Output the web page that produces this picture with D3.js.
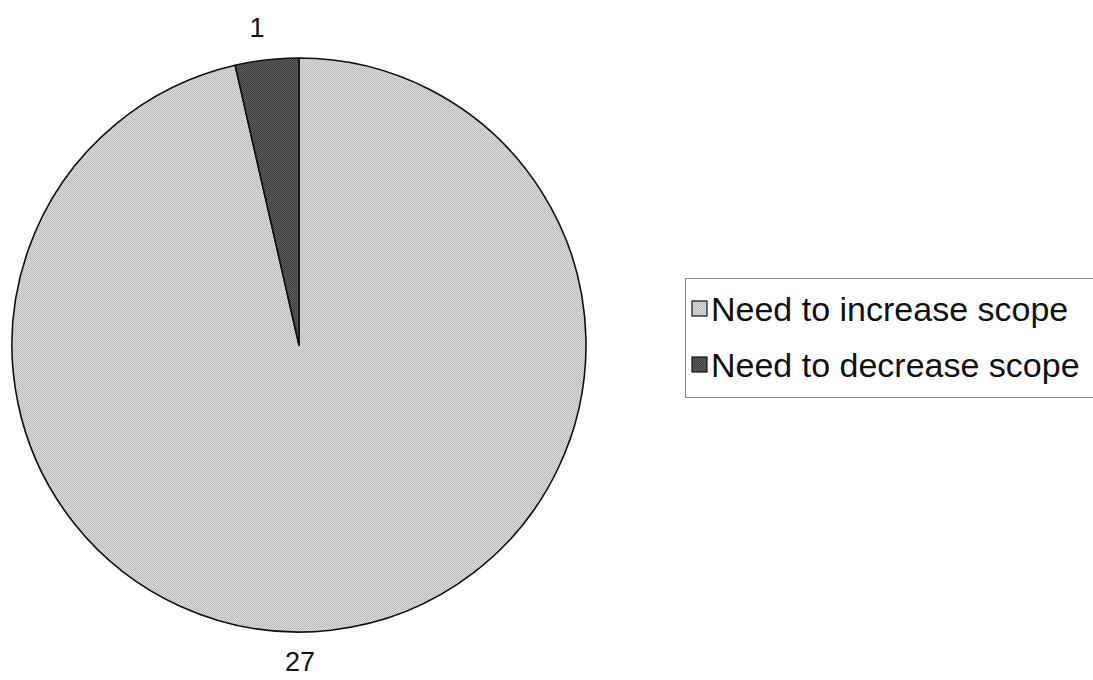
<!DOCTYPE html>
<html>
<head>
<meta charset="utf-8">
<script src="https://cdn.jsdelivr.net/npm/d3@7"></script>
<style>
  html, body { margin: 0; padding: 0; background: #fff; }
  svg { display: block; }
  text { font-family: "Liberation Sans", Arial, Helvetica, sans-serif; fill: #111; }
</style>
</head>
<body>
<svg id="chart" width="1093" height="680"></svg>
<script>
// Survey answers on project scope
const categories = ["Need to increase scope", "Need to decrease scope"];
const counts = [27, 1];
const fills = ["url(#dotLight)", "url(#dotDark)"];

const width = 1093, height = 680;
const cx = 299, cy = 345, radius = 287;

const svg = d3.select("#chart");

// Stippled fills
const defs = svg.append("defs");
function stipple(id, a, b) {
  const p = defs.append("pattern")
    .attr("id", id).attr("patternUnits", "userSpaceOnUse")
    .attr("width", 2).attr("height", 2);
  p.append("rect").attr("width", 2).attr("height", 2).attr("fill", a);
  p.append("rect").attr("width", 1).attr("height", 1).attr("fill", b);
  p.append("rect").attr("x", 1).attr("y", 1).attr("width", 1).attr("height", 1).attr("fill", b);
}
stipple("dotLight", "#dadada", "#bdbdbd");
stipple("dotDark", "#5e5e5e", "#3e3e3e");

const data = categories.map((c, i) => ({ name: c, value: counts[i], fill: fills[i] }));

const pie = d3.pie().value(d => d.value).sort(null);
const arcs = pie(data);
const arc = d3.arc().innerRadius(0).outerRadius(radius);

const g = svg.append("g").attr("transform", `translate(${cx},${cy})`);

g.selectAll("path.slice")
  .data(arcs)
  .join("path")
  .attr("class", "slice")
  .attr("d", arc)
  .attr("fill", d => d.data.fill)
  .attr("stroke", "#111")
  .attr("stroke-width", 1.6)
  .attr("stroke-linejoin", "round");

// Value labels just outside the rim, nudged toward the vertical axis
const labelArc = d3.arc().innerRadius(radius + 34).outerRadius(radius + 34);
const labelNudge = [[-35, -2], [-6, 2]];
g.selectAll("text.value")
  .data(arcs)
  .join("text")
  .attr("class", "value")
  .attr("transform", (d, i) => {
    const [x, y] = labelArc.centroid(d);
    return `translate(${x + labelNudge[i][0]},${y + labelNudge[i][1]})`;
  })
  .attr("text-anchor", "middle")
  .attr("dominant-baseline", "central")
  .attr("font-size", 27)
  .text(d => d.data.value);

// Legend
const legend = svg.append("g").attr("transform", "translate(685,278)");
legend.append("rect")
  .attr("x", 0.5).attr("y", 0.5)
  .attr("width", 440).attr("height", 119)
  .attr("fill", "#fff")
  .attr("stroke", "#888")
  .attr("stroke-width", 1);

const items = legend.selectAll("g.item")
  .data(data)
  .join("g")
  .attr("class", "item")
  .attr("transform", (d, i) => `translate(7,${23 + i * 56})`);

items.append("rect")
  .attr("width", 15).attr("height", 15)
  .attr("fill", d => d.fill)
  .attr("stroke", "#111")
  .attr("stroke-width", 1.2);

items.append("text")
  .attr("x", 19)
  .attr("y", 8)
  .attr("dominant-baseline", "central")
  .attr("font-size", 34)
  .text(d => d.name);
</script>
</body>
</html>
